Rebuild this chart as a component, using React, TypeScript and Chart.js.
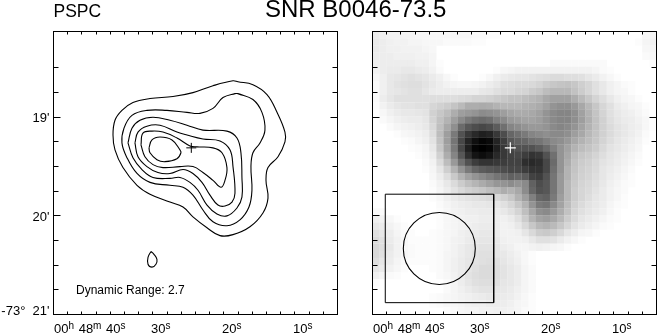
import React, { useEffect, useRef } from "react";
import { Chart, registerables } from "chart.js";

Chart.register(...registerables);

// Right ascension seconds (x), declination arcminutes past -73 deg (y)
const contour1 = [[19.2,18.64],[17.09,18.67],[15.11,18.77],[13.7,18.95],[12.58,19.15],[12.58,19.25],[13.56,19.4],[14.97,19.51],[15.25,19.64],[14.97,19.82],[15.68,19.97],[17.51,20.11],[19.9,20.19],[21.73,20.2],[23.56,20.12],[25.54,20.01],[26.94,19.91],[28.78,19.86],[31.59,19.78],[33.42,19.69],[35.4,19.51],[36.52,19.33],[36.8,19.18],[36.52,19.03],[35.54,18.93],[33.99,18.85],[31.59,18.81],[28.35,18.79],[25.54,18.75],[22.72,18.68],[19.9,18.63],[19.2,18.64]];
const contour2 = [[19.2,18.76],[17.09,18.82],[15.82,18.95],[15.4,19.13],[16.1,19.26],[17.09,19.36],[17.37,19.5],[17.23,19.74],[17.65,19.91],[18.92,20.04],[20.75,20.1],[22.72,20.06],[24.13,19.94],[25.54,19.79],[26.94,19.71],[28.78,19.69],[31.59,19.66],[33.42,19.57],[34.83,19.41],[35.54,19.26],[35.25,19.11],[34.13,18.98],[32.02,18.93],[29.2,18.93],[26.38,18.95],[24.55,18.96],[22.72,18.91],[21.31,18.8],[19.62,18.76],[19.2,18.76]];
const contour3 = [[34.69,19.26],[34.13,19.11],[33,19.03],[31.17,19],[28.78,19.03],[26.38,19.08],[24.13,19.13],[20.75,19.14],[19.34,19.21],[18.78,19.36],[18.64,19.61],[18.64,19.81],[19.34,19.92],[20.75,20],[22.16,19.98],[23.56,19.89],[24.83,19.74],[25.96,19.66],[27.37,19.61],[28.78,19.62],[31.17,19.61],[32.72,19.53],[33.99,19.41],[34.69,19.26]];
const contour4 = [[33.71,19.26],[33.28,19.15],[32.02,19.09],[30.18,19.08],[27.79,19.15],[26.38,19.18],[24.13,19.22],[21.73,19.24],[20.33,19.33],[19.9,19.5],[19.62,19.77],[20.04,19.86],[21.03,19.9],[22.02,19.89],[23.14,19.79],[24.27,19.66],[25.54,19.57],[26.94,19.53],[28.78,19.57],[30.47,19.56],[32.02,19.5],[33.28,19.4],[33.71,19.26]];
const contour5 = [[32.86,19.28],[32.58,19.16],[31.31,19.14],[29.76,19.15],[27.79,19.21],[25.96,19.29],[24.97,19.3],[22.72,19.31],[21.45,19.36],[20.75,19.51],[21.03,19.64],[21.59,19.71],[22.72,19.64],[24.13,19.56],[25.54,19.5],[27.37,19.5],[29.76,19.51],[31.17,19.48],[32.3,19.4],[32.86,19.28]];
const contour6 = [[31.73,19.31],[31.31,19.23],[30.18,19.2],[28.49,19.23],[27.37,19.33],[27.23,19.36],[27.79,19.42],[29.48,19.45],[30.61,19.43],[31.59,19.36],[31.73,19.31]];
const contour7 = [[31.45,20.36],[31.03,20.39],[30.61,20.44],[30.75,20.49],[31.31,20.52],[31.87,20.49],[31.87,20.42],[31.45,20.36]];
const contours = [contour1, contour2, contour3, contour4, contour5, contour6, contour7];

const sourcePosition = [25.77, 19.31];
const beamBox = [[43.38,19.78],[28.11,19.78],[28.11,20.88],[43.38,20.88],[43.38,19.78]];
const beamCentre = [35.77, 20.33];

const raMin = 5.18;
const raMax = 45.18;
const decMin = 18.13;
const decMax = 21;
const cellFirstRa = 44.68;
const cellRaStep = 1;
const cellDecStep = 0.07175;

// Darkness (percent) of the smoothed image, row by row from the top, trailing white left out
const grayRows = [
[7,6,5,5,4,4,3,3,3,3,3,3,3,3,2,2,1,1,0,0,0,0,0,0,0,0,0,0,0,0,0,0,0,0,0,0,0,0,3,4],
[8,7,6,5,5,4,4,3,3,3,2,2,2,2,1,1,0,0,0,0,0,0,0,0,0,0,0,0,0,0,0,0,0,0,0,0,0,1,4,5],
[8,7,6,6,5,5,5,4,3,0,0,0,0,0,0,0,0,0,0,0,0,0,0,0,0,0,0,0,0,0,0,0,0,0,0,0,0,0,3,4],
[7,7,7,6,6,6,5,5,4,0,0,0,0,0,0,0,0,0,0,0,0,0,0,0,0,0,0,0,0,0,0,0,0,0,0,0,0,0,2,3],
[6,7,7,7,7,7,6,6,4,1,0,0,0,0,0,0,0,0,0,0,0,0,0,0,0,2,2,2,2,2,2,2,2,0,0,0,0,0,0,1],
[5,7,8,8,9,9,8,7,5,2,0,0,0,0,0,0,0,1,3,4,5,5,5,5,5,5,5,5,5,5,5,4,2,1],
[3,6,9,10,11,12,11,10,8,6,3,1,0,0,0,1,3,6,8,9,10,10,11,12,13,14,14,13,13,12,10,8,5,3,1],
[2,6,9,11,12,13,13,11,9,7,5,4,3,3,4,5,7,9,12,13,14,14,15,17,20,22,23,24,22,19,16,12,9,6,4,2,1],
[2,6,9,10,11,12,12,10,8,7,7,7,7,7,7,9,10,12,14,14,16,17,20,22,26,28,28,28,24,20,16,12,9,6,4,3,1],
[2,7,10,12,12,12,12,12,13,13,13,13,14,15,17,17,18,20,22,24,24,26,28,30,34,37,37,37,32,27,22,17,13,9,6,4,3,1],
[1,5,8,10,11,11,12,12,16,18,20,23,27,32,32,33,32,30,28,28,28,30,31,33,37,42,44,44,40,34,28,22,16,12,8,6,4,3,1],
[0,3,6,8,9,9,10,11,18,22,26,32,38,40,42,45,44,42,38,35,33,33,34,37,42,46,48,48,44,37,30,23,17,12,9,7,6,4,2],
[0,2,4,6,7,8,8,10,17,24,30,38,46,52,56,58,56,50,46,40,38,36,36,38,42,46,48,48,44,38,31,24,18,13,10,8,7,5,3,1],
[0,0,2,4,5,6,7,9,15,25,34,44,58,66,70,72,70,64,56,48,45,42,40,40,42,46,48,46,42,36,30,24,18,14,11,9,7,6,3,1],
[0,0,0,1,3,4,5,7,13,26,38,52,68,78,84,88,86,78,70,60,56,52,48,46,44,46,46,44,38,34,28,23,18,14,11,9,7,5,2],
[0,0,0,0,1,2,4,6,11,24,38,54,72,86,94,98,96,86,76,66,62,60,56,54,50,46,44,40,34,30,26,22,17,13,10,8,6,4,1],
[0,0,0,0,0,1,2,4,9,22,36,52,72,88,98,100,98,88,78,72,68,68,68,64,58,50,42,36,30,26,23,20,15,11,9,7,5,3],
[0,0,0,0,0,0,1,3,7,18,32,48,66,82,92,95,92,84,78,74,72,76,80,78,68,56,42,34,26,22,20,17,13,10,8,6,4,2],
[0,0,0,0,0,0,0,2,5,14,26,40,56,68,76,80,80,78,76,74,74,82,84,82,72,58,42,32,24,20,18,15,11,9,7,5,3,1],
[0,0,0,0,0,0,0,1,4,10,19,30,42,52,60,64,66,68,70,72,72,76,80,80,72,56,42,30,23,19,17,14,10,8,6,4,2],
[0,0,0,0,0,0,0,0,3,7,13,21,30,37,42,46,50,54,58,62,60,64,74,76,68,54,40,30,22,18,16,13,10,7,5,3,1],
[0,0,0,0,0,0,0,0,2,5,9,14,20,25,29,33,37,41,42,45,42,46,62,70,66,54,40,28,21,17,15,12,9,6,4,2,1],
[0,0,0,0,0,0,0,0,1,4,7,11,15,18,20,22,25,28,32,30,34,45,60,68,66,54,40,28,20,16,14,11,8,5,3,2],
[0,0,0,0,0,0,0,0,1,3,6,8,10,11,12,13,14,15,18,22,30,38,50,60,62,52,38,28,20,16,13,10,8,5,3,1],
[0,0,0,0,0,0,0,0,0,2,4,6,7,8,9,9,10,10,12,16,22,30,42,52,54,46,36,26,18,14,11,9,7,4,2,1],
[2,2,0,0,0,0,0,0,0,1,3,5,6,7,7,8,8,8,9,12,17,25,35,44,46,40,32,24,16,12,10,8,6,3,1],
[6,5,3,1,0,0,0,0,0,1,3,4,5,6,6,7,7,7,6,8,12,20,30,36,38,34,28,20,14,10,8,6,4,2,1],
[9,8,5,3,1,0,0,0,0,1,3,4,5,6,7,8,8,7,5,6,9,15,22,28,30,27,22,16,11,8,6,4,2,1],
[12,10,7,4,2,1,0,0,1,2,3,4,6,7,8,9,9,8,5,5,6,10,15,20,21,19,15,10,7,4,3,1],
[14,12,8,5,3,1,1,1,1,2,3,5,6,8,9,10,10,9,6,5,5,6,9,12,12,11,8,5,3,1],
[15,13,9,5,3,2,1,1,1,2,3,5,7,9,10,11,11,10,7,6,4,4,5,6,5,4,3,1],
[15,12,8,5,3,2,1,1,1,2,4,5,7,9,11,12,12,10,9,7,5,3,1],
[13,10,7,4,2,1,1,1,1,2,4,6,8,10,11,12,13,12,10,8,6,3,1],
[10,8,5,3,1,0,0,0,1,2,4,6,8,10,12,14,14,13,11,9,7,4,2],
[6,4,2,1,0,0,0,0,0,2,3,5,8,11,13,14,14,13,11,9,7,4,2],
[1,0,0,0,0,0,0,0,0,0,2,4,7,10,12,13,13,12,10,9,7,4,2],
[0,0,0,0,0,0,0,0,0,0,2,4,6,8,10,11,11,10,9,8,6,4,2],
[0,0,0,0,0,0,0,0,1,2,3,4,5,6,7,8,9,9,8,7,5,3,1],
[0,0,0,0,0,0,0,0,1,2,3,3,4,5,6,6,7,7,7,6,4,3,1],
[0,0,0,0,0,0,0,0,0,0,1,2,3,4,4,5,5,6,6,5,4,2,1],
];

const raTickLabels = [
  { value: 40, parts: ["00", "h", " 48", "m", " 40", "s"] },
  { value: 30, parts: ["30", "s"] },
  { value: 20, parts: ["20", "s"] },
  { value: 10, parts: ["10", "s"] },
];
const decTickLabels = [
  { value: 19, text: "19'" },
  { value: 20, text: "20'" },
  { value: 21, text: "-73°  21'" },
];
const titleText = "SNR B0046-73.5";
const instrumentText = "PSPC";
const rangeText = "Dynamic Range: 2.7";

const FONT = '"Liberation Sans", Arial, sans-serif';

function toPoints(list: number[][]) {
  return list.map(([x, y]) => ({ x, y }));
}

function snap(p: number) {
  return Math.round(p - 0.5) + 0.5;
}

function framePlugin(showDec: boolean, showHeader: boolean) {
  return {
    id: "astroFrame",
    afterDatasetsDraw(chart: any) {
      const { ctx, chartArea: a, scales } = chart;
      const xs = scales.x;
      const ys = scales.y;
      ctx.save();
      ctx.strokeStyle = "#000";
      ctx.fillStyle = "#000";
      ctx.lineWidth = 1;
      ctx.strokeRect(a.left, a.top, a.right - a.left, a.bottom - a.top);
      ctx.beginPath();
      xs.ticks.forEach((t: any) => {
        const major = Math.abs(t.value % 10) < 1e-6;
        const len = major ? 6 : 3;
        const p = snap(xs.getPixelForValue(t.value));
        ctx.moveTo(p, a.top);
        ctx.lineTo(p, a.top + len);
        ctx.moveTo(p, a.bottom);
        ctx.lineTo(p, a.bottom - len);
      });
      ys.ticks.forEach((t: any) => {
        if (t.value < 18.4 || t.value > 20.9) return;
        const major = Math.abs(t.value % 1) < 1e-6;
        const len = major ? 7 : 5;
        const p = snap(ys.getPixelForValue(t.value));
        ctx.moveTo(a.left, p);
        ctx.lineTo(a.left + len, p);
        ctx.moveTo(a.right, p);
        ctx.lineTo(a.right - len, p);
      });
      ctx.stroke();

      // tick labels with superscript units
      ctx.textBaseline = "alphabetic";
      ctx.textAlign = "left";
      const big = `13px ${FONT}`;
      const small = `10px ${FONT}`;
      raTickLabels.forEach((lab) => {
        let w = 0;
        lab.parts.forEach((s, i) => {
          ctx.font = i % 2 ? small : big;
          w += ctx.measureText(s).width + (i % 2 ? 1 : 0);
        });
        let x = xs.getPixelForValue(lab.value) - w / 2;
        lab.parts.forEach((s, i) => {
          ctx.font = i % 2 ? small : big;
          ctx.fillText(s, x, i % 2 ? 329 : 332.5);
          x += ctx.measureText(s).width + (i % 2 ? 1 : 0);
        });
      });
      if (showDec) {
        ctx.font = big;
        ctx.textAlign = "right";
        decTickLabels.forEach((lab) => {
          const p = ys.getPixelForValue(lab.value);
          ctx.fillText(lab.text, a.left - 4, lab.value === 21 ? p : p + 5);
        });
      }
      if (showHeader) {
        ctx.textAlign = "left";
        ctx.font = `17.5px ${FONT}`;
        ctx.fillText(instrumentText, 53.5, 17);
        ctx.font = `24px ${FONT}`;
        ctx.fillText(titleText, 265, 17);
        ctx.font = `12px ${FONT}`;
        ctx.fillText(rangeText, 76, 293.5);
      }
      ctx.restore();
    },
  };
}

function baseOptions(padding: any) {
  return {
    responsive: false,
    animation: false as const,
    events: [] as string[],
    layout: { padding, autoPadding: false },
    plugins: { legend: { display: false }, tooltip: { enabled: false }, title: { display: false } },
    scales: {
      x: {
        type: "linear" as const,
        display: false,
        reverse: true,
        min: raMin,
        max: raMax,
        ticks: { stepSize: 2, includeBounds: false, autoSkip: false },
      },
      y: {
        type: "linear" as const,
        display: false,
        reverse: true,
        min: decMin,
        max: decMax,
        ticks: { stepSize: 0.25, includeBounds: false, autoSkip: false },
      },
    },
  };
}

function imageCells() {
  const points: { x: number; y: number }[] = [];
  const colors: string[] = [];
  grayRows.forEach((row, j) => {
    row.forEach((d, i) => {
      if (!d) return;
      points.push({ x: cellFirstRa - i * cellRaStep, y: decMin + (j + 0.5) * cellDecStep });
      const g = Math.round(255 * (1 - d / 100));
      colors.push(`rgb(${g},${g},${g})`);
    });
  });
  return { points, colors };
}

const canvasStyle: React.CSSProperties = { position: "absolute", left: 0, top: 0, display: "block" };

export default function App() {
  const leftRef = useRef<HTMLCanvasElement>(null);
  const rightRef = useRef<HTMLCanvasElement>(null);

  useEffect(() => {
    const left = new Chart(leftRef.current!, {
      type: "scatter",
      data: {
        datasets: [
          {
            data: [{ x: sourcePosition[0], y: sourcePosition[1] }],
            pointStyle: "cross",
            pointRadius: 5,
            pointBorderColor: "#000",
            pointBorderWidth: 1,
          },
          ...contours.map((c) => ({
            data: toPoints(c),
            showLine: true,
            tension: 0.4,
            borderColor: "#000",
            borderWidth: 1.1,
            pointRadius: 0,
            fill: false,
          })),
        ],
      },
      options: baseOptions({ left: 53.5, right: 319.5, top: 31.5, bottom: 19.5 }) as any,
      plugins: [framePlugin(true, true)],
    } as any);

    const { points, colors } = imageCells();
    const right = new Chart(rightRef.current!, {
      type: "scatter",
      data: {
        datasets: [
          {
            order: 0,
            data: [{ x: sourcePosition[0], y: sourcePosition[1] }],
            pointStyle: "cross",
            pointRadius: 5.5,
            pointBorderColor: "#fff",
            pointBorderWidth: 1.2,
          },
          {
            order: 1,
            data: [{ x: beamCentre[0], y: beamCentre[1] }],
            pointStyle: "circle",
            pointRadius: 36,
            pointBackgroundColor: "rgba(0,0,0,0)",
            pointBorderColor: "#000",
            pointBorderWidth: 1.1,
          },
          {
            order: 2,
            data: toPoints(beamBox),
            showLine: true,
            tension: 0,
            borderColor: "#000",
            borderWidth: 1,
            pointRadius: 0,
          },
          {
            order: 3,
            data: points,
            pointStyle: "rect",
            pointRadius: 5.16,
            pointBorderWidth: 0,
            pointBackgroundColor: colors,
          },
        ],
      },
      options: baseOptions({ left: 372.5, right: 0.5, top: 31.5, bottom: 19.5 }) as any,
      plugins: [framePlugin(false, false)],
    } as any);

    return () => {
      left.destroy();
      right.destroy();
    };
  }, []);

  return (
    <div style={{ position: "absolute", left: 0, top: 0, width: 657, height: 334, background: "#fff", overflow: "hidden" }}>
      <canvas ref={rightRef} width={657} height={334} style={canvasStyle} />
      <canvas ref={leftRef} width={657} height={334} style={canvasStyle} />
    </div>
  );
}
